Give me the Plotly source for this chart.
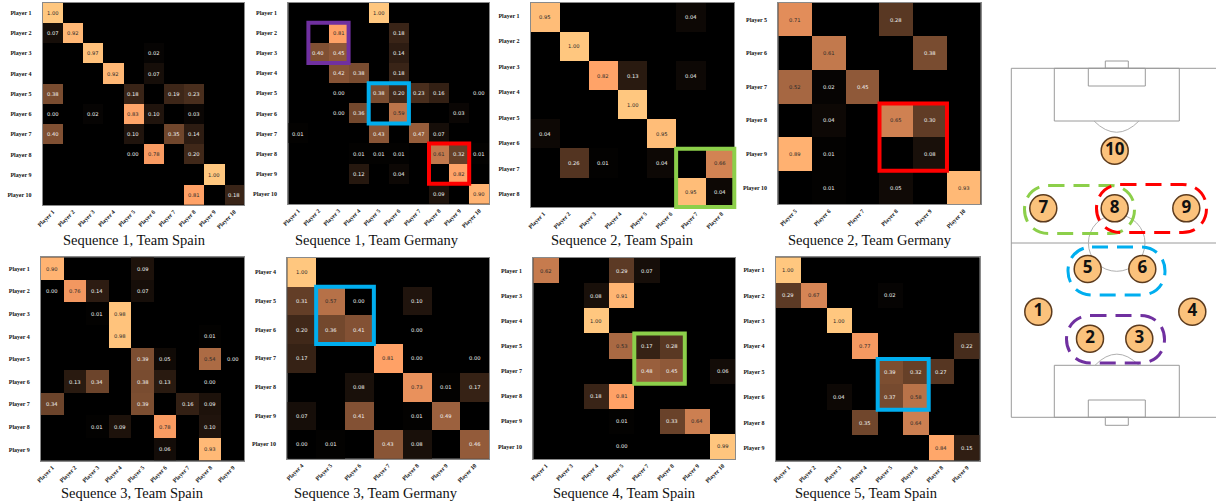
import plotly.graph_objects as go

N = None
W, H = 1216, 503

labels_s1_spain = ["Player 1","Player 2","Player 3","Player 4","Player 5","Player 6","Player 7","Player 8","Player 9","Player 10"]
values_s1_spain = [
 [1.00,N,N,N,N,N,N,N,N,N],
 [0.07,0.92,N,N,N,N,N,N,N,N],
 [N,N,0.97,N,N,0.02,N,N,N,N],
 [N,N,N,0.92,N,0.07,N,N,N,N],
 [0.38,N,N,N,0.18,N,0.19,0.23,N,N],
 [0.00,N,0.02,N,0.83,0.10,N,0.03,N,N],
 [0.40,N,N,N,0.10,N,0.35,0.14,N,N],
 [N,N,N,N,0.00,0.78,N,0.20,N,N],
 [N,N,N,N,N,N,N,N,1.00,N],
 [N,N,N,N,N,N,N,0.81,N,0.18],
]
labels_s1_germany = labels_s1_spain
values_s1_germany = [
 [N,N,N,N,1.00,N,N,N,N,N],
 [N,N,0.81,N,N,0.18,N,N,N,N],
 [N,0.40,0.45,N,N,0.14,N,N,N,N],
 [N,N,0.42,0.38,N,0.18,N,N,N,N],
 [N,N,0.00,N,0.38,0.20,0.23,0.16,N,0.00],
 [N,N,0.00,0.36,N,0.59,N,N,0.03,N],
 [0.01,N,N,N,0.43,N,0.47,0.07,N,N],
 [N,N,N,0.01,0.01,0.01,N,0.61,0.32,0.01],
 [N,N,N,0.12,N,0.04,N,N,0.82,N],
 [N,N,N,N,N,N,N,0.09,N,0.90],
]
labels_s2_spain = ["Player 1","Player 2","Player 3","Player 4","Player 5","Player 6","Player 7","Player 8"]
values_s2_spain = [
 [0.95,N,N,N,N,0.04,N],
 [N,1.00,N,N,N,N,N],
 [N,N,0.82,0.13,N,0.04,N],
 [N,N,N,1.00,N,N,N],
 [0.04,N,N,N,0.95,N,N],
 [N,0.26,0.01,N,0.04,N,0.66],
 [N,N,N,N,N,0.95,0.04],
]
labels_s2_germany = ["Player 5","Player 6","Player 7","Player 8","Player 9","Player 10"]
values_s2_germany = [
 [0.71,N,N,0.28,N,N],
 [N,0.61,N,N,0.38,N],
 [0.52,0.02,0.45,N,N,N],
 [N,0.04,N,0.65,0.30,N],
 [0.89,0.01,N,N,0.08,N],
 [N,0.01,N,0.05,N,0.93],
]
labels_s3_spain = ["Player 1","Player 2","Player 3","Player 4","Player 5","Player 6","Player 7","Player 8","Player 9"]
values_s3_spain = [
 [0.90,N,N,N,0.09,N,N,N,N],
 [0.00,0.76,0.14,N,0.07,N,N,N,N],
 [N,N,0.01,0.98,N,N,N,N,N],
 [N,N,N,0.98,N,N,N,0.01,N],
 [N,N,N,N,0.39,0.05,N,0.54,0.00],
 [N,0.13,0.34,N,0.38,0.13,N,0.00,N],
 [0.34,N,N,N,0.39,N,0.16,0.09,N],
 [N,N,0.01,0.09,N,0.78,N,0.10,N],
 [N,N,N,N,N,0.06,N,0.93,N],
]
labels_s3_germany = ["Player 4","Player 5","Player 6","Player 7","Player 8","Player 9","Player 10"]
values_s3_germany = [
 [1.00,N,N,N,N,N,N],
 [0.31,0.57,0.00,N,0.10,N,N],
 [0.20,0.36,0.41,N,0.00,N,N],
 [0.17,N,N,0.81,0.00,N,0.00],
 [N,N,0.08,N,0.73,0.01,0.17],
 [0.07,N,0.41,N,0.01,0.49,N],
 [0.00,0.01,N,0.43,0.08,N,0.46],
]
labels_s4_spain = ["Player 1","Player 3","Player 4","Player 5","Player 7","Player 8","Player 9","Player 10"]
values_s4_spain = [
 [0.62,N,N,0.29,0.07,N,N,N],
 [N,N,0.08,0.91,N,N,N,N],
 [N,N,1.00,N,N,N,N,N],
 [N,N,N,0.53,0.17,0.28,N,N],
 [N,N,N,N,0.48,0.45,N,0.06],
 [N,N,0.18,0.81,N,N,N,N],
 [N,N,N,0.01,N,0.33,0.64,N],
 [N,N,N,0.00,N,N,N,0.99],
]
labels_s5_spain = ["Player 1","Player 2","Player 3","Player 4","Player 5","Player 6","Player 8","Player 9"]
values_s5_spain = [
 [1.00,N,N,N,N,N,N,N],
 [0.29,0.67,N,N,0.02,N,N,N],
 [N,N,1.00,N,N,N,N,N],
 [N,N,N,0.77,N,N,N,0.22],
 [N,N,N,N,0.39,0.32,0.27,N],
 [N,N,0.04,N,0.37,0.58,N,N],
 [N,N,N,0.35,N,0.64,N,N],
 [N,N,N,N,N,N,0.84,0.15],
]
titles = ["Sequence 1, Team Spain","Sequence 1, Team Germany","Sequence 2, Team Spain","Sequence 2, Team Germany",
          "Sequence 3, Team Spain","Sequence 3, Team Germany","Sequence 4, Team Spain","Sequence 5, Team Spain"]

GREEN, RED, BLUE, PURPLE = "#8CCF4A", "#FF0000", "#00AEEF", "#7030A0"
panels = [
 (labels_s1_spain, values_s1_spain, (42.7,244.3,2.7,205), (134,240), []),
 (labels_s1_germany, values_s1_germany, (288.3,489.3,2.7,204), (376.7,240),
  [(PURPLE,1,2,1,2),(BLUE,4,5,4,5),(RED,7,8,7,8)]),
 (labels_s2_spain, values_s2_spain, (530.7,734.3,2.7,207), (622,240), [(GREEN,5,6,5,6)]),
 (labels_s2_germany, values_s2_germany, (778.3,980.7,2.7,204.3), (869.7,240), [(RED,3,4,3,4)]),
 (labels_s3_spain, values_s3_spain, (41,244.3,257.3,460.7), (132,493), []),
 (labels_s3_germany, values_s3_germany, (287.3,489.3,258,458.7), (376,493), [(BLUE,1,2,1,2)]),
 (labels_s4_spain, values_s4_spain, (533.3,735.3,258,459), (624,493), [(GREEN,4,5,3,4)]),
 (labels_s5_spain, values_s5_spain, (775.7,979.7,257.3,460.7), (867,493), [(BLUE,4,5,4,5)]),
]

copper = [[0,"rgb(0,0,0)"],[0.8,"rgb(255,159,101)"],[1,"rgb(255,199,127)"]]
fig = go.Figure()
shapes, annots = [], []

for i,(labels,vals,(l,r,t,b),(tx,ty),boxes) in enumerate(panels):
    k = i+1
    n = len(vals)
    idx = list(range(n))
    nl = len(labels)
    ticks = [(j+0.5)*n/nl-0.5 for j in range(nl)]
    suffix = "" if k==1 else str(k)
    fig.add_trace(go.Heatmap(z=vals,x=idx,y=idx,zmin=0,zmax=1,colorscale=copper,showscale=False,
                             hoverongaps=False,xaxis=f"x{suffix}",yaxis=f"y{suffix}"))
    axis_common = dict(showgrid=False,zeroline=False,showline=True,mirror=True,linecolor="#8a8a8a",linewidth=1,
                       automargin=False,tickmode="array",tickvals=ticks,ticktext=labels,ticks="",
                       tickfont=dict(family="Liberation Serif",size=6,color="#111111",weight="bold"))
    fig.update_layout({
        f"xaxis{suffix}":dict(domain=[l/W,r/W],range=[-0.5,n-0.5],anchor=f"y{suffix}",tickangle=-45,ticklabelstandoff=0,**axis_common),
        f"yaxis{suffix}":dict(domain=[1-b/H,1-t/H],range=[n-0.5,-0.5],anchor=f"x{suffix}",ticklabelstandoff=9,**axis_common),
    })
    shapes.append(dict(type="rect",xref=f"x{suffix} domain",yref=f"y{suffix} domain",x0=0,x1=1,y0=0,y1=1,
                       fillcolor="black",line_width=0,layer="below"))
    for ri,row in enumerate(vals):
        for ci,v in enumerate(row):
            if v is None: continue
            annots.append(dict(x=ci,y=ri,xref=f"x{suffix}",yref=f"y{suffix}",text=f"{v:.2f}",showarrow=False,
                               xanchor="center",yanchor="middle",
                               font=dict(family="DejaVu Sans",size=5.2,color="#2a2a2a" if v>=0.5 else "#f2f2f2")))
    for color,c0,c1,r0,r1 in boxes:
        cw=(r-l)/n; ch=(b-t)/n
        shapes.append(dict(type="rect",xref="paper",yref="paper",
                           x0=(l+c0*cw)/W,x1=(l+(c1+1)*cw)/W,
                           y0=1-(t+(r1+1)*ch)/H,y1=1-(t+r0*ch)/H,
                           line=dict(color=color,width=4),fillcolor="rgba(0,0,0,0)"))
    annots.append(dict(x=tx/W,y=1-ty/H,xref="paper",yref="paper",text=titles[i],showarrow=False,
                       xanchor="center",yanchor="middle",
                       font=dict(family="Liberation Serif",size=14.5,color="#111111")))

player_names = ["1","2","3","4","5","6","7","8","9","10"]
player_x = [1038.3,1090,1139.3,1192.3,1087.7,1142.3,1043.3,1114.7,1186.3,1114.7]
player_y = [311.7,338.7,338.7,311.7,269,269,208.3,208.3,208.3,150.7]
fig.add_trace(go.Scatter(x=player_x,y=player_y,text=player_names,mode="markers+text",xaxis="x9",yaxis="y9",
    marker=dict(size=27,color="#FBC27C",line=dict(color="#5C3B1E",width=1.5)),
    textposition="middle center",textfont=dict(family="Noto Sans",size=17,color="#111111",weight="bold")))
fig.update_layout(
    xaxis9=dict(domain=[1000/W,1],range=[1000,1216],visible=False,anchor="y9",automargin=False),
    yaxis9=dict(domain=[1-432/H,1-50/H],range=[432,50],visible=False,anchor="x9",automargin=False),
)
gray=dict(color="#9a9a9a",width=1)
def px(xs,ys,**kw):
    return dict(xref="x9",yref="y9",x0=xs[0],x1=xs[1],y0=ys[0],y1=ys[1],layer="below",**kw)
for xs,ys in [((1011.3,1222),(68.3,417.3)),((1054.3,1179.3),(68.3,121)),((1088.3,1145.3),(68.3,86)),
              ((1105.3,1128.3),(61,68.3)),((1054.3,1179.3),(365.3,417.3)),((1088.3,1145.3),(400,417.3)),
              ((1105.3,1128.3),(417.3,425.3))]:
    shapes.append(px(xs,ys,type="rect",line=gray))
shapes.append(px((1011.3,1216),(243,243),type="line",line=gray))
shapes.append(px((1088.4,1145),(214.7,271.3),type="circle",line=dict(color="#b0b0b0",width=1)))
shapes.append(dict(type="path",xref="x9",yref="y9",layer="below",line=dict(color="#b0b0b0",width=1),
                   path="M1094,121 Q1116.7,143.5 1139,121"))
shapes.append(dict(type="path",xref="x9",yref="y9",layer="below",line=dict(color="#b0b0b0",width=1),
                   path="M1095,365.3 Q1116.7,343 1139,365.3"))

def rounded(x0,x1,y0,y1,r):
    m=0.42*r
    return (f"M{x0+r},{y0} L{x1-r},{y0} C{x1-m},{y0} {x1},{y0+m} {x1},{(y0+y1)/2} "
            f"C{x1},{y1-m} {x1-m},{y1} {x1-r},{y1} L{x0+r},{y1} "
            f"C{x0+m},{y1} {x0},{y1-m} {x0},{(y0+y1)/2} C{x0},{y0+m} {x0+m},{y0} {x0+r},{y0} Z")
for color,box in [(GREEN,(1024.5,1134.5,185.5,233.5)),(RED,(1096.5,1206.5,184.5,232.5)),
                  (BLUE,(1068,1165,247,295)),(PURPLE,(1066.5,1164.5,315.5,363))]:
    shapes.append(dict(type="path",xref="x9",yref="y9",layer="below",path=rounded(*box,24),
                       line=dict(color=color,width=3,dash="16px,9px")))

fig.update_layout(width=W,height=H,margin=dict(l=0,r=0,t=0,b=0),showlegend=False,
                  paper_bgcolor="white",plot_bgcolor="white",shapes=shapes,annotations=annots)
fig.write_html("out.html",config={"displayModeBar":False},post_script="document.body.style.margin='0';")
